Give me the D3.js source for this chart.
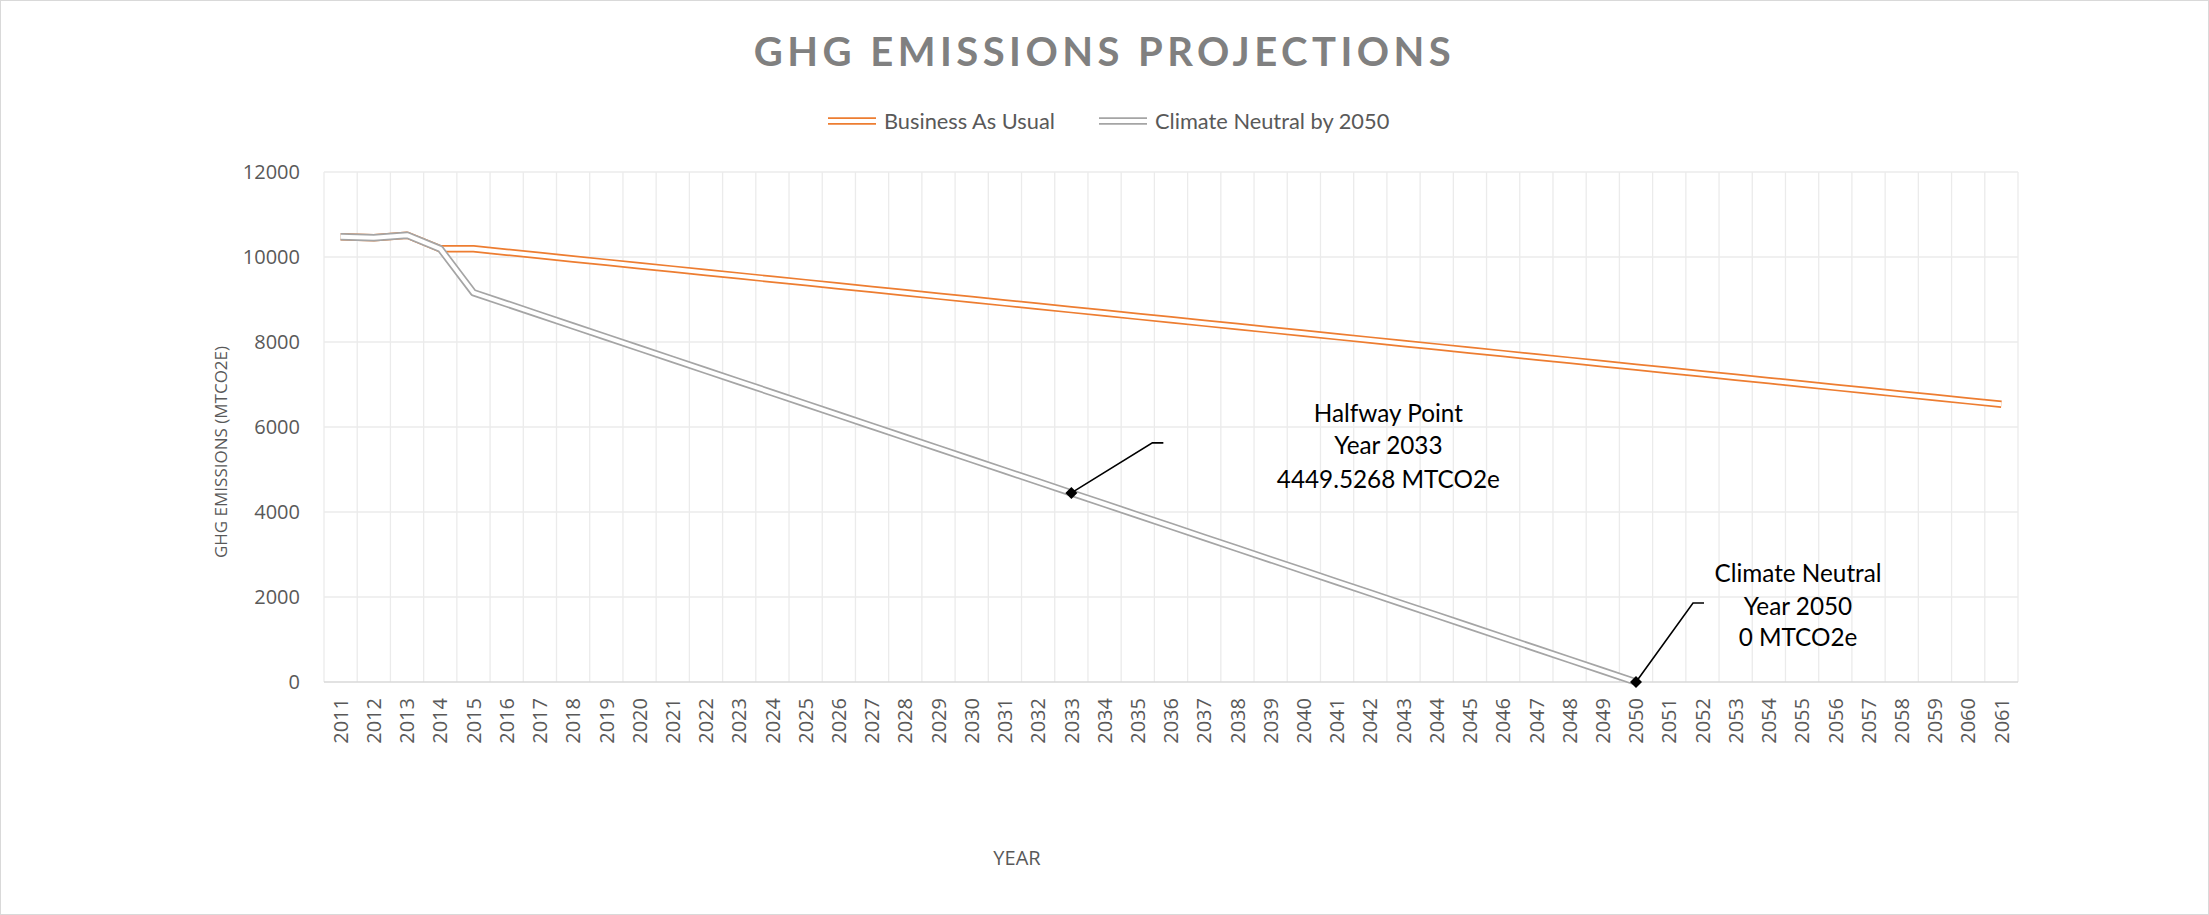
<!DOCTYPE html>
<html><head><meta charset="utf-8">
<script src="https://cdn.jsdelivr.net/npm/d3@7"></script>
<style>body{margin:0;background:#fff;} svg{display:block;}</style>
</head><body><svg id="c" width="2209" height="915"></svg>
<script>
const years = [2011,2012,2013,2014,2015,2016,2017,2018,2019,2020,2021,2022,2023,2024,2025,2026,2027,2028,2029,2030,
  2031,2032,2033,2034,2035,2036,2037,2038,2039,2040,2041,2042,2043,2044,2045,2046,2047,2048,2049,2050,
  2051,2052,2053,2054,2055,2056,2057,2058,2059,2060,2061];
const businessAsUsual = [10475,10454,10513,10193,10193,10113,10034,9954,9875,9795,9716,9636,9557,9477,9398,9318,9238,9159,9079,9000,
  8920,8841,8761,8682,8602,8523,8443,8364,8284,8205,8125,8045,7966,7886,7807,7727,7648,7568,7489,7409,
  7330,7250,7170,7091,7011,6932,6852,6773,6693,6614,6534];
const climateNeutral = [10475,10454,10513,10193,9160.8,8899.1,8637.3,8375.6,8113.9,7852.1,7590.4,7328.6,7066.9,6805.2,6543.4,6281.7,6019.9,5758.2,5496.5,5234.7,
  4973.0,4711.3,4449.5268,4187.8,3926.1,3664.3,3402.6,3140.8,2879.1,2617.4,2355.6,2093.9,1832.1,1570.4,1308.7,1046.9,785.2,523.5,261.7,0];
const yTicks = [0,2000,4000,6000,8000,10000,12000];
const seriesNames = ["Business As Usual","Climate Neutral by 2050"];
const seriesColors = ["#ED7D31","#A5A5A5"];
const annotationYears = [2033,2050];
const annotationLines = [["Halfway Point","Year 2033","4449.5268 MTCO2e"],["Climate Neutral","Year 2050","0 MTCO2e"]];
const titleText = "GHG EMISSIONS PROJECTIONS";
const yTitle = "GHG EMISSIONS (MTCO2E)";
const xTitle = "YEAR";

const W = 2209, H = 915;
const M = {left:324, right:2018, top:172, bottom:682};
const svg = d3.select("#c");
svg.append("rect").attr("x",0.5).attr("y",0.5).attr("width",W-1).attr("height",H-1)
  .attr("fill","#fff").attr("stroke","#D9D9D9");

const x = d3.scaleBand().domain(years).range([M.left, M.right]).padding(0);
const xc = d => x(d) + x.bandwidth()/2;
const y = d3.scaleLinear().domain([0,12000]).range([M.bottom, M.top]);

// gridlines
const grid = svg.append("g");
grid.selectAll("line.h").data(yTicks.filter(t=>t>0)).join("line")
  .attr("x1",M.left).attr("x2",M.right).attr("y1",d=>y(d)).attr("y2",d=>y(d))
  .attr("stroke","#EBEBEB").attr("stroke-width",1.3);
const bounds = years.map(d=>x(d)).concat([M.right]);
grid.selectAll("line.v").data(bounds).join("line")
  .attr("x1",d=>d).attr("x2",d=>d).attr("y1",M.top).attr("y2",M.bottom)
  .attr("stroke","#EBEBEB").attr("stroke-width",1.3);
grid.append("line").attr("x1",M.left).attr("x2",M.right).attr("y1",y(0)).attr("y2",y(0))
  .attr("stroke","#D9D9D9").attr("stroke-width",1.3);

// y axis labels
const yAxis = d3.axisLeft(y).tickValues(yTicks).tickSize(0).tickPadding(0).tickFormat(d3.format("d"));
const ya = svg.append("g").attr("transform",`translate(${M.left-24},0)`).call(yAxis);
ya.select(".domain").remove();
ya.selectAll("text").attr("font-family","'Open Sans'").attr("font-size",20).attr("fill","#595959");

// x axis labels
const xAxis = d3.axisBottom(x).tickSize(0).tickPadding(0);
const xa = svg.append("g").attr("transform",`translate(0,${M.bottom})`).call(xAxis);
xa.select(".domain").remove();
xa.selectAll("text").attr("font-family","'Open Sans'").attr("font-size",20).attr("fill","#595959")
  .attr("transform","rotate(-90)").attr("text-anchor","end").attr("x",-16).attr("y",0).attr("dy","0.36em");

// double lines
function drawDouble(values, color){
  const line = d3.line().x((d,i)=>xc(years[i])).y(d=>y(d));
  const g = svg.append("g").attr("fill","none").attr("stroke-linejoin","round");
  g.append("path").attr("d",line(values)).attr("stroke",color).attr("stroke-width",7.4);
  g.append("path").attr("d",line(values)).attr("stroke","#fff").attr("stroke-width",4);
}
drawDouble(businessAsUsual, seriesColors[0]);
drawDouble(climateNeutral, seriesColors[1]);

// annotations
const leaderOffsets = [[[81,-50],[92,-50]],[[57,-79],[68,-79]]];
const textOffsets = [[317,[-80,-48,-14]],[162,[-109,-76,-45]]];
annotationYears.forEach((yr,k)=>{
  const i = years.indexOf(yr);
  const px = xc(yr), py = y(climateNeutral[i]);
  const pts = [[px,py]].concat(leaderOffsets[k].map(o=>[px+o[0],py+o[1]]));
  svg.append("path").attr("d",d3.line()(pts)).attr("fill","none").attr("stroke","#000").attr("stroke-width",1.6);
  svg.append("path").attr("d",d3.symbol(d3.symbolSquare,72)()).attr("transform",`translate(${px},${py}) rotate(45)`).attr("fill","#000");
  const t = svg.append("text").attr("font-family","Lato").attr("font-size",24.3).attr("fill","#000").attr("text-anchor","middle");
  annotationLines[k].forEach((ln,j)=>{
    t.append("tspan").attr("x",px+textOffsets[k][0]).attr("y",py+textOffsets[k][1][j]).attr("dy","0.36em").text(ln);
  });
});

// title
const tt = svg.append("text").attr("x",W/2).attr("y",66).attr("text-anchor","middle")
  .attr("font-family","Lato").attr("font-weight","bold").attr("font-size",40).attr("fill","#808080").text(titleText);
const w0 = tt.node().getComputedTextLength();
tt.attr("letter-spacing",((697-w0)/(titleText.length-1)).toFixed(2)+"px");

// legend
const legX = [828,1099];
seriesNames.forEach((nm,k)=>{
  const g = svg.append("g");
  g.append("line").attr("x1",legX[k]).attr("x2",legX[k]+48).attr("y1",121).attr("y2",121).attr("stroke",seriesColors[k]).attr("stroke-width",7.4);
  g.append("line").attr("x1",legX[k]).attr("x2",legX[k]+48).attr("y1",121).attr("y2",121).attr("stroke","#fff").attr("stroke-width",4);
  g.append("text").attr("x",legX[k]+56).attr("y",121).attr("dy","0.36em").attr("font-family","Lato").attr("font-size",21.8).attr("fill","#595959").text(nm);
});

// axis titles
svg.append("text").attr("transform","translate(221,452) rotate(-90)").attr("text-anchor","middle").attr("dy","0.36em")
  .attr("font-family","'Open Sans'").attr("font-size",17).attr("fill","#595959").text(yTitle);
svg.append("text").attr("x",1017).attr("y",858).attr("text-anchor","middle").attr("dy","0.36em")
  .attr("font-family","'Open Sans'").attr("font-size",20).attr("fill","#595959").text(xTitle);
</script></body></html>
